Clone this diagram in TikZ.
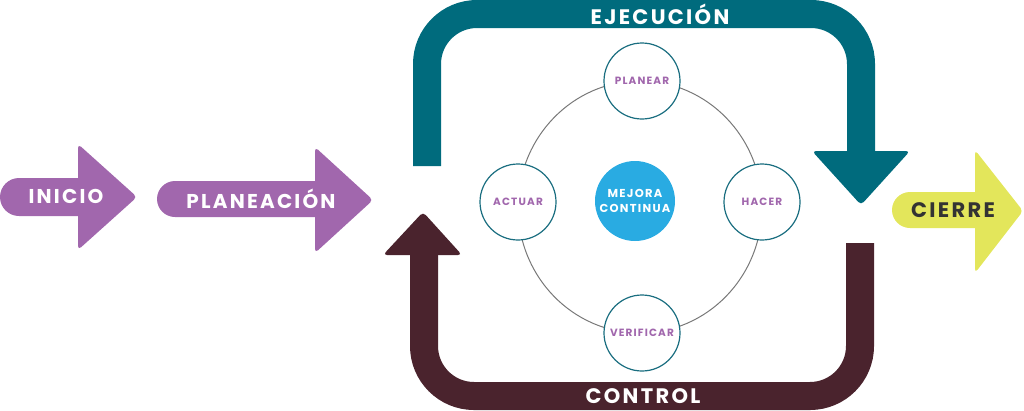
\documentclass[tikz,border=0pt]{standalone}
\usepackage{fontspec}
\setmainfont{Poppins}[LetterSpace=11]
\definecolor{purp}{RGB}{161,103,173}
\definecolor{teal1}{RGB}{0,107,125}
\definecolor{maroon1}{RGB}{74,35,45}
\definecolor{yel}{RGB}{227,230,91}
\definecolor{cyan1}{RGB}{41,171,226}
\definecolor{ringgray}{RGB}{120,120,120}
\definecolor{nodeedge}{RGB}{26,110,128}
\definecolor{darktxt}{RGB}{51,51,51}
\tikzset{
  bigtxt/.style={font=\bfseries\fontsize{20}{22}\selectfont, text=white, inner sep=0pt},
  smalltxt/.style={font=\bfseries\fontsize{10.5}{12}\selectfont, text=purp, inner sep=0pt},
  pdca/.style={circle, draw=nodeedge, line width=1.2pt, fill=white, minimum size=76pt, inner sep=0pt},
  band/.style={line width=28pt, rounded corners=50pt},
  headcorner/.style={rounded corners=4pt},
}
\begin{document}
\begin{tikzpicture}[x=1pt,y=-1pt]
\useasboundingbox (0,0) rectangle (1024,410);
% INICIO arrow
\fill[purp, rounded corners=19pt] (82,178) -- (0,178) -- (0,216) -- (82,216);
\fill[purp, headcorner] (78,144) -- (137,197) -- (78,250) -- cycle;
\node[bigtxt] (inicio) at (66,196) {INICIO};
% PLANEACION arrow
\fill[purp, rounded corners=18pt] (320,181) -- (157,181) -- (157,217) -- (320,217);
\fill[purp, headcorner] (315,147) -- (373,200) -- (315,253) -- cycle;
\node[bigtxt] (planeacion) at (261,199) {PLANEACIÓN};
% CIERRE arrow
\fill[yel, rounded corners=18pt] (980,192) -- (892,192) -- (892,228) -- (980,228);
\fill[yel, headcorner] (975,150) -- (1023,211) -- (975,273) -- cycle;
\node[bigtxt, text=darktxt, font=\bfseries\fontsize{21}{22}\selectfont] (cierre) at (953,210) {CIERRE};
% EJECUCION band
\draw[band, teal1] (427,166) -- (427,14) -- (861,14) -- (861,152);
\fill[teal1, headcorner] (812,151) -- (910,151) -- (861,205) -- cycle;
\node[bigtxt, font=\bfseries\fontsize{21}{22}\selectfont] (ejec) at (660,14) {EJECUCIÓN};
% CONTROL band
\draw[band, maroon1] (860,243) -- (860,396) -- (424,396) -- (424,255);
\fill[maroon1, headcorner] (383,255) -- (462,255) -- (423,212) -- cycle;
\node[bigtxt, font=\bfseries\fontsize{21}{22}\selectfont] (control) at (643,396) {CONTROL};
% ring
\draw[ringgray, line width=1pt] (640,207) ellipse [x radius=122pt, y radius=126pt];
\node[pdca] (planear) at (642,81) {};
\node[smalltxt] at (planear) {PLANEAR};
\node[pdca] (hacer) at (762,202) {};
\node[smalltxt] at (hacer) {HACER};
\node[pdca] (verificar) at (642,333) {};
\node[smalltxt] at (verificar) {VERIFICAR};
\node[pdca] (actuar) at (518,202) {};
\node[smalltxt] at (actuar) {ACTUAR};
\node[circle, fill=cyan1, minimum size=80pt, inner sep=0pt, text=white, align=center,
  font=\bfseries\fontsize{11.5}{14.5}\selectfont] (mejora) at (635,201) {MEJORA\\CONTINUA};
\end{tikzpicture}
\end{document}
